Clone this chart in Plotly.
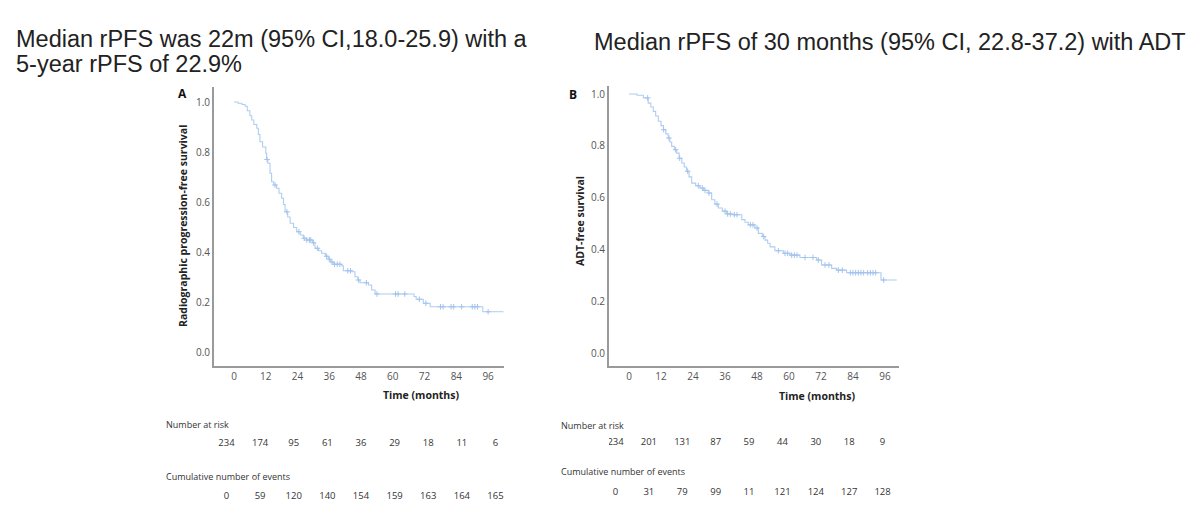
import plotly.graph_objects as go
import numpy as np

W, H = 1200, 513

# ---------------- data ----------------
# Panel A: radiographic progression-free survival (step points: time, survival after step)
a_time = [0, 1.5, 3, 4.2, 5, 6, 6.7, 7.5, 8.6, 9.2, 9.8, 10.8, 12, 12.3, 12.8, 13.6, 14.2, 15, 16.1, 17,
          18, 18.7, 19.3, 20.3, 21.2, 22.5, 23.7, 25, 26.2, 27.5, 29.7, 30.6, 32, 33.1, 34.5, 35.6, 36.5,
          37.5, 40.7, 41.3, 44.5, 45.7, 46.8, 47.6, 50.8, 52, 53.3, 68.0, 68.8, 71.5, 74.1, 94, 101.8]
a_surv = [1.0, 0.995, 0.99, 0.983, 0.965, 0.945, 0.928, 0.91, 0.895, 0.87, 0.841, 0.82, 0.795, 0.77, 0.755,
          0.715, 0.681, 0.668, 0.655, 0.635, 0.615, 0.59, 0.561, 0.54, 0.515, 0.498, 0.481, 0.468, 0.455,
          0.448, 0.437, 0.415, 0.405, 0.395, 0.383, 0.371, 0.36, 0.351, 0.345, 0.325, 0.321, 0.301, 0.288,
          0.277, 0.268, 0.248, 0.232, 0.222, 0.211, 0.195, 0.181, 0.161, 0.161]
a_censor = [12.5, 15.5, 20.0, 24.5, 26.5, 27.5, 28.5, 29.0, 30.0, 31.5, 35.0, 36.0, 37.0, 38.0, 39.0, 40.0,
            43.0, 44.0, 47.0, 50.0, 54.0, 61.0, 62.0, 64.5, 70.0, 72.5, 78.0, 79.0, 82.0, 83.0, 86.0,
            90.0, 91.0, 92.0, 96.0]

# Panel B: ADT-free survival
b_time = [0, 3, 5.4, 7.2, 8.2, 9.1, 10, 11, 12, 12.9, 13.8, 14.7, 15.3, 16, 17, 17.9, 18.8, 19.8, 20.7,
          21.6, 22.5, 23.5, 25, 26.6, 28, 29.7, 31, 32.2, 33.5, 35, 36.6, 39, 42.3, 43.5, 44.7, 47.2,
          48.5, 50, 51, 52, 52.9, 54.7, 57.9, 60.4, 64.1, 70.4, 72.2, 76, 77.9, 81.6, 94.5, 100.4]
b_surv = [1.0, 0.995, 0.985, 0.965, 0.95, 0.933, 0.915, 0.895, 0.878, 0.862, 0.846, 0.83, 0.815, 0.798,
          0.785, 0.772, 0.752, 0.734, 0.718, 0.702, 0.68, 0.656, 0.646, 0.637, 0.628, 0.618, 0.592, 0.575,
          0.56, 0.548, 0.537, 0.534, 0.515, 0.505, 0.495, 0.483, 0.462, 0.45, 0.436, 0.424, 0.41, 0.395,
          0.385, 0.378, 0.369, 0.359, 0.34, 0.327, 0.32, 0.31, 0.282, 0.282]
b_censor = [7.0, 13.0, 15.0, 17.5, 19.0, 22.0, 26.0, 27.5, 28.5, 30.0, 33.0, 36.0, 37.0, 38.0, 39.5, 40.5,
            45.5, 46.5, 48.0, 50.5, 56.0, 58.5, 59.5, 61.0, 62.0, 63.0, 66.0, 69.0, 71.0, 73.5, 75.0, 78.5,
            80.0, 83.0, 84.0, 85.0, 86.0, 87.0, 88.0, 89.5, 90.5, 91.5, 92.5, 95.5]

x_ticks = [0, 12, 24, 36, 48, 60, 72, 84, 96]
y_ticks = [0.0, 0.2, 0.4, 0.6, 0.8, 1.0]

a_at_risk = [234, 174, 95, 61, 36, 29, 18, 11, 6]
a_events = [0, 59, 120, 140, 154, 159, 163, 164, 165]
b_at_risk = [234, 201, 131, 87, 59, 44, 30, 18, 9]
b_events = [0, 31, 79, 99, 11, 121, 124, 127, 128]

title_a_1 = "Median rPFS was 22m (95% CI,18.0-25.9) with a"
title_a_2 = "5-year rPFS of 22.9%"
title_b = "Median rPFS of 30 months (95% CI, 22.8-37.2) with ADT"
ylab_a = "Radiographic progression-free survival"
ylab_b = "ADT-free survival"
xlab = "Time (months)"
row_labels = ["Number at risk", "Cumulative number of events"]

# ---------------- helpers ----------------
def px(x):
    return x / W

def py(y):
    return 1 - y / H

def step_lookup(times, surv, t):
    idx = np.searchsorted(np.array(times), t, side="right") - 1
    return surv[max(idx, 0)]

LINE = "#b0cdf0"
MARK = "#a3c3ec"
AXC = "#9a9a9a"
TICKC = "#555555"
FONT = "Open Sans, Arial, sans-serif"
TFONT = "Arial, Liberation Sans, sans-serif"

fig = go.Figure()

# KM curves
for (tt, ss, cc, xa, ya) in [(a_time, a_surv, a_censor, "x", "y"), (b_time, b_surv, b_censor, "x2", "y2")]:
    fig.add_trace(go.Scatter(x=tt, y=ss, mode="lines", line=dict(color=LINE, width=1.1, shape="hv"),
                             xaxis=xa, yaxis=ya, showlegend=False, hoverinfo="skip"))
    fig.add_trace(go.Scatter(x=cc, y=[step_lookup(tt, ss, c) for c in cc], mode="markers",
                             marker=dict(symbol="cross-thin", size=4, line=dict(color=MARK, width=1)),
                             xaxis=xa, yaxis=ya, showlegend=False, hoverinfo="skip"))

# risk tables (text on hidden axes)
for (risk, ev, xa, ya) in [(a_at_risk, a_events, "x3", "y3"), (b_at_risk, b_events, "x4", "y4")]:
    fig.add_trace(go.Scatter(x=x_ticks, y=[1] * len(x_ticks), mode="text", text=[str(v) for v in risk],
                             textfont=dict(size=9.5, color="#333333", family=FONT),
                             xaxis=xa, yaxis=ya, showlegend=False, hoverinfo="skip"))
    fig.add_trace(go.Scatter(x=x_ticks, y=[0] * len(x_ticks), mode="text", text=[str(v) for v in ev],
                             textfont=dict(size=9.5, color="#333333", family=FONT),
                             xaxis=xa, yaxis=ya, showlegend=False, hoverinfo="skip"))

def main_x(dom, rng):
    return dict(domain=dom, range=rng, tickvals=x_ticks, ticktext=[str(v) for v in x_ticks],
                showline=True, linecolor=AXC, linewidth=2, showgrid=False, zeroline=False,
                ticks="", tickfont=dict(size=10, color=TICKC, family=FONT), fixedrange=True)

def main_y(dom, rng, anchor):
    return dict(domain=dom, range=rng, tickvals=y_ticks, ticktext=[f"{v:.1f}" for v in y_ticks],
                showline=True, linecolor=AXC, linewidth=2, showgrid=False, zeroline=False,
                ticks="", tickfont=dict(size=10, color=TICKC, family=FONT), anchor=anchor, fixedrange=True)

hidden = dict(visible=False, showgrid=False, zeroline=False, fixedrange=True)

fig.update_layout(
    width=W, height=H, margin=dict(l=0, r=0, t=0, b=0),
    paper_bgcolor="white", plot_bgcolor="white",
    xaxis=main_x([px(214), px(504)], [-7.56, 102.0]),
    yaxis=main_y([py(366), py(87)], [-0.056, 1.06], "x"),
    xaxis2=main_x([px(609), px(899)], [-7.5, 101.25]),
    yaxis2=main_y([py(366), py(86)], [-0.05, 1.031], "x2"),
    xaxis3=dict(domain=[px(214), px(504)], range=[-4.46, 99.04], anchor="y3", **hidden),
    yaxis3=dict(domain=[py(510), py(405)], range=[-0.245, 1.736], anchor="x3", **hidden),
    xaxis4=dict(domain=[px(609), px(899)], range=[-2.34, 101.9], anchor="y4", **hidden),
    yaxis4=dict(domain=[py(510), py(405)], range=[-0.34, 1.76], anchor="x4", **hidden),
)
fig.layout.xaxis.anchor = "y"
fig.layout.xaxis2.anchor = "y2"

ann = []
# titles
ann.append(dict(text=title_a_1, x=px(14), y=py(38.5), xanchor="left", yanchor="middle",
                font=dict(size=23.5, color="#222222", family=TFONT)))
ann.append(dict(text=title_a_2, x=px(14), y=py(64), xanchor="left", yanchor="middle",
                font=dict(size=23.5, color="#222222", family=TFONT)))
ann.append(dict(text=title_b, x=px(592), y=py(42), xanchor="left", yanchor="middle",
                font=dict(size=23.5, color="#222222", family=TFONT)))
# panel letters
ann.append(dict(text="<b>A</b>", x=px(182), y=py(93), xanchor="center", yanchor="middle",
                font=dict(size=12, color="#111111", family=FONT)))
ann.append(dict(text="<b>B</b>", x=px(573), y=py(95), xanchor="center", yanchor="middle",
                font=dict(size=12, color="#111111", family=FONT)))
# axis titles
ann.append(dict(text=f"<b>{ylab_a}</b>", x=px(183), y=py(226), textangle=-90, xanchor="center",
                yanchor="middle", font=dict(size=10.5, color="#222222", family=FONT)))
ann.append(dict(text=f"<b>{ylab_b}</b>", x=px(580), y=py(221), textangle=-90, xanchor="center",
                yanchor="middle", font=dict(size=10.5, color="#222222", family=FONT)))
ann.append(dict(text=f"<b>{xlab}</b>", x=px(421), y=py(395), xanchor="center", yanchor="middle",
                font=dict(size=10.5, color="#222222", family=FONT)))
ann.append(dict(text=f"<b>{xlab}</b>", x=px(817), y=py(395.5), xanchor="center", yanchor="middle",
                font=dict(size=10.5, color="#222222", family=FONT)))
# table row labels
ann.append(dict(text=row_labels[0], x=px(164), y=py(424), xanchor="left", yanchor="middle",
                font=dict(size=9, color="#333333", family=FONT)))
ann.append(dict(text=row_labels[1], x=px(164), y=py(476), xanchor="left", yanchor="middle",
                font=dict(size=9, color="#333333", family=FONT)))
ann.append(dict(text=row_labels[0], x=px(559), y=py(425), xanchor="left", yanchor="middle",
                font=dict(size=9, color="#333333", family=FONT)))
ann.append(dict(text=row_labels[1], x=px(559), y=py(471.5), xanchor="left", yanchor="middle",
                font=dict(size=9, color="#333333", family=FONT)))
for a in ann:
    a.update(xref="paper", yref="paper", showarrow=False)
fig.update_layout(annotations=ann)

fig.write_html("out.html")
